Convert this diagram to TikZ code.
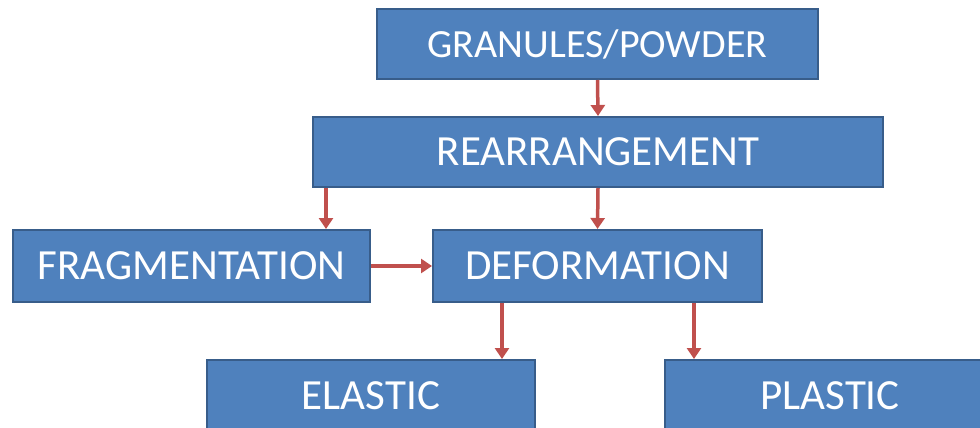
\documentclass[tikz,border=0pt]{standalone}
\usepackage{fontspec}
\setmainfont{Carlito}
\usetikzlibrary{arrows.meta}
\definecolor{boxfill}{HTML}{4F81BD}
\definecolor{boxline}{HTML}{385D8A}
\definecolor{arrred}{HTML}{C0504D}
\begin{document}
\begin{tikzpicture}[x=1pt,y=-1pt,
  box/.style={draw=boxline,line width=2pt,fill=boxfill,text=white,inner sep=0pt,
    anchor=center,font=\fontsize{43}{46}\selectfont},
  arr/.style={draw=arrred,line width=3.5pt,-{Triangle[width=14pt,length=11pt]}}]
\useasboundingbox (0,0) rectangle (980,428);
\clip (0,0) rectangle (980,428);
\node[box,minimum width=441pt,minimum height=70pt,font=\fontsize{40}{44}\selectfont] (G) at (597.5,44) {GRANULES/POWDER};
\node[box,minimum width=570pt,minimum height=70pt] (R) at (598,152) {REARRANGEMENT};
\node[box,minimum width=357pt,minimum height=72pt] (F) at (191.5,266) {FRAGMENTATION};
\node[box,minimum width=329pt,minimum height=72pt] (D) at (597.5,266) {DEFORMATION};
\node[box,minimum width=328pt,minimum height=72pt] (E) at (371,396) {ELASTIC};
\node[box,minimum width=330pt,minimum height=72pt] (P) at (830,396) {PLASTIC};
\draw[arr] (G.south) -- (R.north);
\draw[arr] ([xshift=14pt]R.south west) -- ([xshift=14pt]R.south west |- F.north);
\draw[arr] (R.south) -- (D.north);
\draw[arr] (F.east) -- (D.west);
\draw[arr] ([xshift=70pt]D.south west) -- ([xshift=70pt]D.south west |- E.north);
\draw[arr] ([xshift=-69pt]D.south east) -- ([xshift=-69pt]D.south east |- P.north);
\end{tikzpicture}
\end{document}
